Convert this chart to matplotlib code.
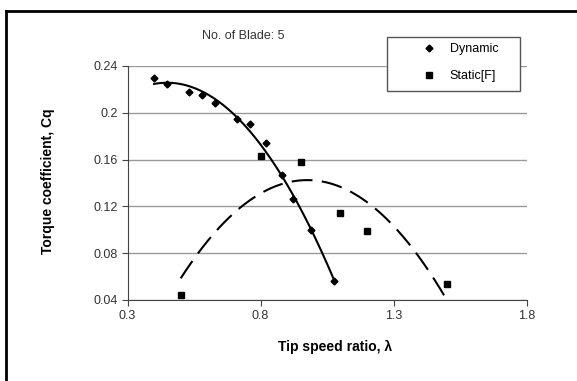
import numpy as np
import matplotlib.pyplot as plt
from matplotlib.patches import Rectangle
from matplotlib.lines import Line2D

plt.rcParams['font.family'] = ['Liberation Sans', 'DejaVu Sans']

# data
dyn_tsr = [0.40, 0.45, 0.53, 0.58, 0.63, 0.71, 0.76, 0.82, 0.88, 0.92, 0.99, 1.075]
dyn_cq = [0.230, 0.225, 0.218, 0.215, 0.208, 0.195, 0.190, 0.174, 0.147, 0.126, 0.100, 0.0565]
sta_tsr = [0.50, 0.80, 0.95, 1.10, 1.20, 1.50]
sta_cq = [0.044, 0.163, 0.158, 0.114, 0.099, 0.054]
xticks = [0.3, 0.8, 1.3, 1.8]
yticks = [0.04, 0.08, 0.12, 0.16, 0.2, 0.24]
ytick_labels = ['0.04', '0.08', '0.12', '0.16', '0.2', '0.24']

fig = plt.figure(figsize=(5.77, 3.81), dpi=100)
ax = fig.add_axes([0.221, 0.2126, 0.692, 0.6142])

# excel style polynomial trendlines over the data range
xd = np.linspace(min(dyn_tsr), max(dyn_tsr), 200)
ax.plot(xd, np.polyval(np.polyfit(dyn_tsr, dyn_cq, 2), xd), color='black', lw=1.5)
xs = np.linspace(min(sta_tsr), max(sta_tsr), 200)
ax.plot(xs, np.polyval(np.polyfit(sta_tsr, sta_cq, 2), xs), color='black', lw=1.5,
        dashes=(10, 4.5))

ax.plot(dyn_tsr, dyn_cq, 'D', color='black', ms=3.5, clip_on=False)
ax.plot(sta_tsr, sta_cq, 's', color='black', ms=5, clip_on=False)

ax.set_xlim(0.3, 1.8)
ax.set_ylim(0.04, 0.24)
ax.set_xticks(xticks)
ax.set_xticklabels([str(t) for t in xticks])
ax.set_yticks(yticks)
ax.set_yticklabels(ytick_labels)
ax.yaxis.grid(True, color='#9a9a9a', lw=1)
ax.set_axisbelow(True)
for s in ['top', 'right']:
    ax.spines[s].set_visible(False)
for s in ['left', 'bottom']:
    ax.spines[s].set_color('#444444')
ax.tick_params(direction='out', length=4, width=0.8, color='#444444',
               labelsize=9, labelcolor='#333333', pad=3)

ax.set_xlabel('Tip speed ratio, λ', fontsize=10, fontweight='bold')
ax.set_ylabel('Torque coefficient, Cq', fontsize=10, fontweight='bold')
ax.xaxis.set_label_coords(0.52, -0.172)
ax.yaxis.set_label_coords(-0.182, 0.506)

fig.text(243 / 577, 1 - 36 / 381, 'No. of Blade: 5', fontsize=9, color='#333333',
         ha='center', va='center')

# legend box
fig.patches.append(Rectangle((387 / 577, 1 - 91 / 381), 133 / 577, 54 / 381,
                             transform=fig.transFigure, fill=True, facecolor='white',
                             edgecolor='#555555', lw=1, zorder=5))
handles = [Line2D([], [], ls='none', marker='D', color='black', ms=3.5),
           Line2D([], [], ls='none', marker='s', color='black', ms=5)]
leg = fig.legend(handles, ['Dynamic', 'Static[F]'], loc='upper left',
                 bbox_to_anchor=(413 / 577, 1 - 37 / 381), frameon=False,
                 fontsize=9, labelspacing=1.2, handletextpad=0.95, borderpad=0,
                 handlelength=1.5)
leg.set_zorder(6)

# outer frame (left and top only, rest is cut off)
fig.add_artist(Line2D([6 / 577, 6 / 577], [0, 1 - 11 / 381], color='black', lw=2,
                      transform=fig.transFigure))
fig.add_artist(Line2D([6 / 577, 1], [1 - 11 / 381, 1 - 11 / 381], color='black', lw=2,
                      transform=fig.transFigure))

fig.savefig('out.png', dpi=100)
